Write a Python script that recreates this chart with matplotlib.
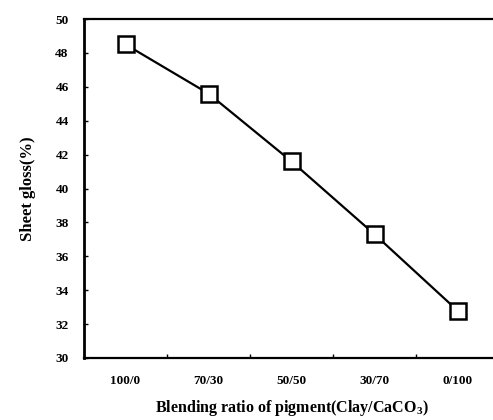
import matplotlib
matplotlib.use("Agg")
import matplotlib.pyplot as plt

# data
ratios = ["100/0", "70/30", "50/50", "30/70", "0/100"]
gloss = [48.5, 45.6, 41.6, 37.3, 32.8]
y_ticks = [30, 32, 34, 36, 38, 40, 42, 44, 46, 48, 50]

plt.rcParams['font.family'] = ['Liberation Serif', 'DejaVu Serif']
plt.rcParams['font.weight'] = 'bold'
plt.rcParams['mathtext.fontset'] = 'custom'
plt.rcParams['mathtext.bf'] = 'Liberation Serif:bold'
plt.rcParams['mathtext.rm'] = 'Liberation Serif'

fig = plt.figure(figsize=(4.93, 4.2), dpi=100)
# axes runs past the right edge of the picture, like the scan
ax = fig.add_axes([84 / 493, 1 - 358 / 420, 415 / 493, 339 / 420])

x = list(range(len(ratios)))
ax.plot(x, gloss, color='black', linewidth=1.6, marker='s', markersize=11,
        markerfacecolor='white', markeredgecolor='black', markeredgewidth=1.8)

ax.set_xlim(-0.5, len(ratios) - 0.5)
ax.set_ylim(30, 50)
ax.set_yticks(y_ticks)
ax.set_yticklabels([str(v) for v in y_ticks], fontsize=9.5, fontweight='bold')
ax.set_xticks(x)
ax.set_xticklabels(ratios, fontsize=9.5, fontweight='bold')
ax.set_xticks([i + 0.5 for i in x[:-1]], minor=True)

ax.tick_params(axis='x', which='major', length=0, pad=12)
ax.tick_params(axis='x', which='minor', direction='in', length=3, width=1)
ax.tick_params(axis='y', direction='in', length=3, width=1, pad=11)

ax.spines['right'].set_visible(False)
ax.spines['left'].set_linewidth(2.0)
ax.spines['top'].set_linewidth(1.6)
ax.spines['bottom'].set_linewidth(1.6)

ax.set_ylabel('Sheet gloss(%)', fontsize=12, fontweight='bold', labelpad=14)
ax.set_xlabel('Blending ratio of pigment(Clay/CaCO$_\\mathbf{3}$)', fontsize=11.5,
              fontweight='bold', labelpad=8)

fig.savefig('out.png', dpi=100)
